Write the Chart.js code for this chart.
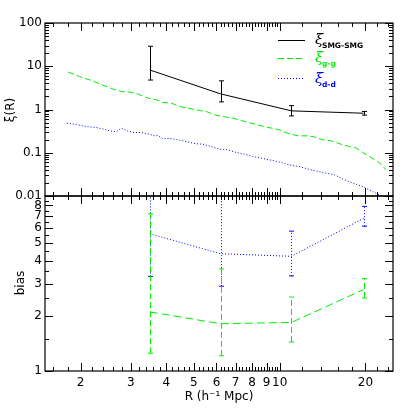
<!DOCTYPE html>
<html><head><meta charset="utf-8">
<script src="https://cdn.jsdelivr.net/npm/chart.js@4.4.0/dist/chart.umd.min.js"></script>
<style>
html,body{margin:0;padding:0;background:#fff;}
#wrap{position:relative;width:415px;height:415px;background:#fff;}
canvas{position:absolute;left:0;top:0;}
</style></head><body>
<div id="wrap"><canvas id="top" width="415" height="415"></canvas><canvas id="bot" width="415" height="415"></canvas></div>
<script>
// ---- data ----
const smgR = [3.5, 6.2, 11.0, 19.7];
const smgXi = [8.2, 2.3, 0.93, 0.82];
const smgXiLo = [4.8, 1.5, 0.71, 0.74];
const smgXiHi = [29, 4.6, 1.23, 0.9];

const ggR = [1.81,1.98,2.18,2.33,2.46,2.60,2.78,2.97,3.18,3.44,3.69,3.89,4.15,4.45,4.76,5.09,5.52,5.91,6.31,6.85,7.33,7.94,8.61,9.34,9.98,10.8,11.6,12.6,13.3,14.2,15.2,16.4,17.6,18.6,19.6,20.7,22.1,23.0,23.6];
const ggXi = [7.34,5.81,4.69,3.94,3.41,2.97,2.61,2.53,2.27,1.84,1.68,1.45,1.42,1.17,1.08,0.98,0.90,0.754,0.689,0.632,0.556,0.484,0.420,0.371,0.339,0.274,0.246,0.246,0.230,0.199,0.188,0.158,0.139,0.128,0.101,0.0817,0.0625,0.0498,0.0402];

const ddR = [1.79,1.93,2.09,2.27,2.39,2.53,2.67,2.78,2.89,3.05,3.27,3.44,3.64,3.74,3.89,4.11,4.39,4.70,5.09,5.37,5.75,6.15,6.58,7.04,7.52,8.05,8.61,9.21,9.85,10.8,11.7,12.9,14.2,15.6,16.7,18.1,19.3,20.7,22.1,23.5];
const ddXi = [0.484,0.450,0.404,0.383,0.357,0.321,0.305,0.371,0.327,0.294,0.294,0.274,0.246,0.250,0.210,0.215,0.199,0.182,0.161,0.158,0.139,0.121,0.117,0.101,0.0929,0.0817,0.0750,0.0686,0.0625,0.0525,0.0480,0.0402,0.0348,0.0308,0.0245,0.0198,0.0171,0.0138,0.0110,0.0092];

const biasR = [3.5, 6.2, 11.0, 19.7];
const biasD = [5.6, 4.36, 4.22, 6.8];
const biasDLo = [3.28, 2.9, 3.3, 6.16];
const biasDHi = [15, 15, 5.79, 7.9];
const biasG = [2.1, 1.81, 1.84, 2.78];
const biasGLo = [1.25, 1.21, 1.44, 2.5];
const biasGHi = [7.2, 3.6, 2.53, 3.19];

const xMajor = [2,3,4,5,6,7,8,9,10,20];
const xMinor = [1.6,1.8,2.2,2.4,2.6,2.8,3.2,3.4,3.6,3.8,4.2,4.4,4.6,4.8,5.2,5.4,5.6,5.8,6.2,6.4,6.6,6.8,7.2,7.4,7.6,7.8,8.2,8.4,8.6,8.8,9.2,9.4,9.6,9.8,12,14,16,18,22,24];
const topYMajor = [0.01,0.1,1,10,100];
const topYMinor = [0.02,0.03,0.04,0.05,0.06,0.07,0.08,0.09,0.2,0.3,0.4,0.5,0.6,0.7,0.8,0.9,2,3,4,5,6,7,8,9,20,30,40,50,60,70,80,90];
const botYMajor = [1,2,3,4,5,6,7,8];
const botYMinor = [1.5,2.5,3.5,4.5,5.5,6.5,7.5,8.5];

const FONT = 'DejaVu Sans';
const GREEN = '#00ee00';
const BLUE = '#0000ff';

function pts(xs, ys){ return xs.map((x,i)=>({x:x, y:ys[i]})); }

function framePlugin(yMajor, yMinor, extra){
  return { id:'frame', afterDraw(chart){
    const ctx = chart.ctx, a = chart.chartArea, xs = chart.scales.x, ys = chart.scales.y;
    ctx.save();
    ctx.strokeStyle = '#000'; ctx.lineWidth = 1.2; ctx.setLineDash([]);
    ctx.strokeRect(a.left, a.top, a.right-a.left, a.bottom-a.top);
    ctx.lineWidth = 1;
    ctx.beginPath();
    const xt = (v,len)=>{ const p = Math.round(xs.getPixelForValue(v))+0.5; if(p<a.left||p>a.right) return;
      ctx.moveTo(p,a.bottom); ctx.lineTo(p,a.bottom-len); ctx.moveTo(p,a.top); ctx.lineTo(p,a.top+len); };
    const yt = (v,len)=>{ const p = Math.round(ys.getPixelForValue(v))+0.5; if(p<a.top-1||p>a.bottom+1) return;
      ctx.moveTo(a.left,p); ctx.lineTo(a.left+len,p); ctx.moveTo(a.right,p); ctx.lineTo(a.right-len,p); };
    xMajor.forEach(v=>xt(v,8)); xMinor.forEach(v=>xt(v,4));
    yMajor.forEach(v=>yt(v,8)); yMinor.forEach(v=>yt(v,4));
    ctx.stroke();
    ctx.restore();
    if (extra) extra(chart);
  }};
}

function errPlugin(sets){
  return { id:'err', afterDatasetsDraw(chart){
    const ctx = chart.ctx, a = chart.chartArea, xs = chart.scales.x, ys = chart.scales.y;
    ctx.save();
    ctx.beginPath(); ctx.rect(a.left, a.top-1, a.right-a.left, a.bottom-a.top+2); ctx.clip();
    sets.forEach(s=>{
      ctx.strokeStyle = s.color; ctx.lineWidth = s.width || 1; ctx.setLineDash(s.dash);
      s.x.forEach((xv,i)=>{
        const px = Math.round(xs.getPixelForValue(xv))+0.5;
        const pl = ys.getPixelForValue(s.lo[i]), ph = ys.getPixelForValue(s.hi[i]);
        ctx.beginPath(); ctx.moveTo(px,pl); ctx.lineTo(px,ph); ctx.stroke();
        ctx.setLineDash([]);
        ctx.beginPath();
        ctx.moveTo(px-2.5,pl); ctx.lineTo(px+2.5,pl);
        ctx.moveTo(px-2.5,ph); ctx.lineTo(px+2.5,ph);
        ctx.stroke();
        ctx.setLineDash(s.dash);
      });
    });
    ctx.restore();
  }};
}

function yScale(min, max, major){
  return { type:'logarithmic', min:min, max:max,
    afterBuildTicks(s){ s.ticks = major.map(v=>({value:v})); },
    afterFit(s){ s.width = 45; },
    ticks:{ callback:(v)=>String(v), autoSkip:false, color:'#000', padding:3, font:{family:FONT, size:12} },
    grid:{ display:false, drawTicks:false }, border:{ display:false } };
}

function drawXi(ctx, x, y, sub, color){
  ctx.fillStyle = color;
  ctx.font = 'italic 15px "DejaVu Serif"';
  ctx.textAlign = 'left'; ctx.textBaseline = 'alphabetic';
  ctx.fillText('ξ', x, y);
  ctx.font = 'bold 7.5px ' + FONT;
  ctx.fillText(sub, x+7, y+4);
}

const topExtra = (chart)=>{
  const ctx = chart.ctx;
  ctx.save();
  // legend
  ctx.lineWidth = 1;
  ctx.strokeStyle = '#000'; ctx.setLineDash([]);
  ctx.beginPath(); ctx.moveTo(278,40.5); ctx.lineTo(305,40.5); ctx.stroke();
  ctx.strokeStyle = GREEN; ctx.setLineDash([6,3]);
  ctx.beginPath(); ctx.moveTo(278,58.5); ctx.lineTo(305,58.5); ctx.stroke();
  ctx.strokeStyle = BLUE; ctx.setLineDash([1,2]);
  ctx.beginPath(); ctx.moveTo(278,78.5); ctx.lineTo(305,78.5); ctx.stroke();
  ctx.setLineDash([]);
  drawXi(ctx, 315, 44, 'SMG-SMG', '#000');
  drawXi(ctx, 315, 62, 'g-g', GREEN);
  drawXi(ctx, 315, 83, 'd-d', BLUE);
  // y title
  ctx.fillStyle = '#000';
  ctx.translate(11, 110); ctx.rotate(-Math.PI/2);
  ctx.textAlign = 'center'; ctx.textBaseline = 'middle';
  ctx.font = '12px ' + FONT;
  ctx.fillText('ξ(R)', 0, 0);
  ctx.restore();
};

const botExtra = (chart)=>{
  const ctx = chart.ctx;
  ctx.save();
  ctx.fillStyle = '#000';
  ctx.font = '12px ' + FONT;
  ctx.textAlign = 'center'; ctx.textBaseline = 'middle';
  ctx.fillText('R (h⁻¹ Mpc)', 219, 397);
  ctx.translate(21, 283); ctx.rotate(-Math.PI/2);
  ctx.fillText('bias', 0, 0);
  ctx.restore();
};

const common = { responsive:false, animation:false, events:[],
  plugins:{ legend:{display:false}, tooltip:{enabled:false} } };

new Chart(document.getElementById('top'), {
  type:'line',
  data:{ datasets:[
    { data:pts(smgR, smgXi), borderColor:'#000', borderWidth:1, pointRadius:0, tension:0 },
    { data:pts(ggR, ggXi), borderColor:GREEN, borderDash:[6,3], borderWidth:1, pointRadius:0, tension:0 },
    { data:pts(ddR, ddXi), borderColor:BLUE, borderDash:[1,2], borderWidth:1, pointRadius:0, tension:0 }
  ]},
  options:Object.assign({}, common, {
    layout:{ padding:{ left:0, right:22, top:23, bottom:219 } },
    scales:{
      x:{ type:'logarithmic', min:1.5, max:25, display:false },
      y:yScale(0.01, 100, topYMajor)
    }
  }),
  plugins:[ errPlugin([{x:smgR, lo:smgXiLo, hi:smgXiHi, color:'#000', dash:[]}]),
            framePlugin(topYMajor, topYMinor, topExtra) ]
});

new Chart(document.getElementById('bot'), {
  type:'line',
  data:{ datasets:[
    { data:pts(biasR, biasD), borderColor:BLUE, borderDash:[1,2], borderWidth:1, pointRadius:0, tension:0 },
    { data:pts(biasR, biasG), borderColor:GREEN, borderDash:[8,4], borderWidth:1, pointRadius:0, tension:0 }
  ]},
  options:Object.assign({}, common, {
    layout:{ padding:{ left:0, right:22, top:196, bottom:0 } },
    scales:{
      x:{ type:'logarithmic', min:1.5, max:25,
        afterBuildTicks(s){ s.ticks = xMajor.map(v=>({value:v})); },
        afterFit(s){ s.height = 44; },
        ticks:{ callback:(v)=>String(v), autoSkip:false, maxRotation:0, minRotation:0, color:'#000', padding:5, font:{family:FONT, size:12} },
        grid:{ display:false, drawTicks:false }, border:{ display:false } },
      y:yScale(1, 9, botYMajor)
    }
  }),
  plugins:[ errPlugin([
              {x:biasR, lo:biasDLo, hi:biasDHi, color:BLUE, dash:[1,2]},
              {x:biasR, lo:biasGLo, hi:biasGHi, color:GREEN, dash:[6,3]} ]),
            framePlugin(botYMajor, botYMinor, botExtra) ]
});
</script>
</body></html>
